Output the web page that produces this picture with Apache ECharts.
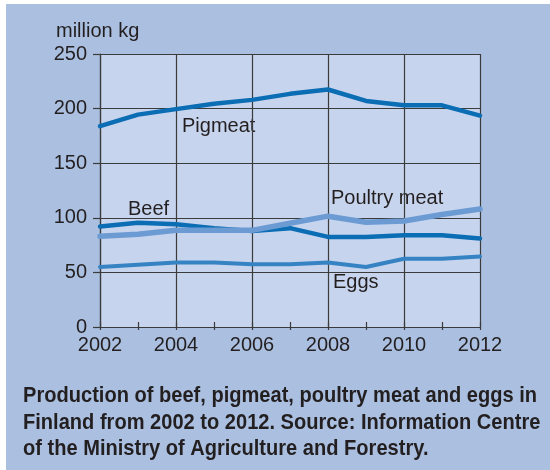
<!DOCTYPE html>
<html>
<head>
<meta charset="utf-8">
<script src="https://cdn.jsdelivr.net/npm/echarts@6/dist/echarts.min.js"></script>
<style>
  html, body { margin: 0; padding: 0; background: #ffffff; }
  #chart { position: absolute; left: 6px; top: 4px; width: 544px; height: 466px; }
</style>
</head>
<body>
<div id="chart"></div>
<script>
// Production in Finland, million kg
const years = ['2002','2003','2004','2005','2006','2007','2008','2009','2010','2011','2012'];
const pigmeat = [184, 194.5, 199.5, 204.5, 208, 213.5, 217.5, 207, 203, 203, 193.5];
const beef    = [92, 95.5, 94, 90.5, 88, 90.5, 82.5, 82.5, 84, 84, 81];
const poultry = [83, 85, 88.5, 88.5, 88.5, 95, 101.5, 96, 97, 103, 108];
const eggs    = [55, 57, 59, 59, 57.5, 57.5, 59, 55, 62.5, 62.5, 64.5];
const yTicks  = [0, 50, 100, 150, 200, 250];
const captionLines = [
  'Production of beef, pigmeat, poultry meat and eggs in',
  'Finland from 2002 to 2012. Source: Information Centre',
  'of the Ministry of Agriculture and Forestry.'
];

const FONT = "'Liberation Sans', Arial, sans-serif";
const INK = '#231f20';
const GRIDC = '#3b3b3b';
const CAPTION_FONT = 'bold 22px ' + FONT;

// The caption is set in a condensed face: squeeze a regular bold face to the column width.
const measureCtx = document.createElement('canvas').getContext('2d');
measureCtx.font = CAPTION_FONT;
const captionWidth = 514;
const captionScale = captionWidth / measureCtx.measureText(captionLines[0]).width;

const chart = echarts.init(document.getElementById('chart'), null, { renderer: 'canvas' });

function lineSeries(name, data, color, width, z) {
  return {
    name: name, type: 'line', data: data, xAxisIndex: 0, yAxisIndex: 0,
    showSymbol: false, symbol: 'none', z: z, silent: true,
    lineStyle: { color: color, width: width, cap: 'round', join: 'round' }
  };
}

chart.setOption({
  animation: false,
  backgroundColor: '#abc0e1',
  grid: { left: 94, right: 70, top: 50, bottom: 143, show: true, backgroundColor: '#c7d4ed', borderWidth: 0 },
  xAxis: [
    {
      type: 'category', data: years, boundaryGap: false,
      axisLine: { show: true, lineStyle: { color: GRIDC, width: 1.2 } },
      axisTick: { show: true, interval: 0, inside: false, length: 3, lineStyle: { color: GRIDC, width: 1.2 } },
      axisLabel: { interval: 1, color: INK, fontFamily: FONT, fontSize: 20, margin: 8 },
      splitLine: { show: true, interval: 1, lineStyle: { color: GRIDC, width: 1.2 } },
      z: 1
    },
    {
      type: 'category', data: years, boundaryGap: false, position: 'bottom', gridIndex: 0,
      axisLine: { show: false },
      axisTick: { show: true, interval: 0, inside: true, length: 5, lineStyle: { color: GRIDC, width: 1.2 } },
      axisLabel: { show: false },
      splitLine: { show: false }
    }
  ],
  yAxis: {
    type: 'value', min: 0, max: 250, interval: 50,
    axisLine: { show: true, lineStyle: { color: GRIDC, width: 1.2 } },
    axisTick: { show: true, inside: false, length: 7, lineStyle: { color: GRIDC, width: 1.2 } },
    axisLabel: {
      color: INK, fontFamily: FONT, fontSize: 20, margin: 13,
      formatter: function (v) { return yTicks.indexOf(v) >= 0 ? String(v) : ''; }
    },
    splitLine: { show: true, lineStyle: { color: GRIDC, width: 1.2 } }
  },
  series: [
    lineSeries('Eggs', eggs, '#3683c4', 4, 3),
    lineSeries('Beef', beef, '#0b6db4', 4.5, 4),
    lineSeries('Poultry meat', poultry, '#6c9bd4', 5.5, 5),
    lineSeries('Pigmeat', pigmeat, '#0b6db4', 4.5, 6)
  ],
  graphic: [
    { type: 'text', left: 50, top: 17, style: { text: 'million kg', font: '20px ' + FONT, fill: INK } },
    { type: 'text', left: 176, top: 112, style: { text: 'Pigmeat', font: '20px ' + FONT, fill: INK } },
    { type: 'text', left: 122, top: 195, style: { text: 'Beef', font: '20px ' + FONT, fill: INK } },
    { type: 'text', left: 325, top: 184, style: { text: 'Poultry meat', font: '20px ' + FONT, fill: INK } },
    { type: 'text', left: 327, top: 268, style: { text: 'Eggs', font: '20px ' + FONT, fill: INK } }
  ].concat(captionLines.map(function (line, i) {
    return {
      type: 'text', x: 17, y: 381 + i * 26.5, scaleX: captionScale,
      style: { text: line, font: CAPTION_FONT, fill: INK }
    };
  }))
});
</script>
</body>
</html>
